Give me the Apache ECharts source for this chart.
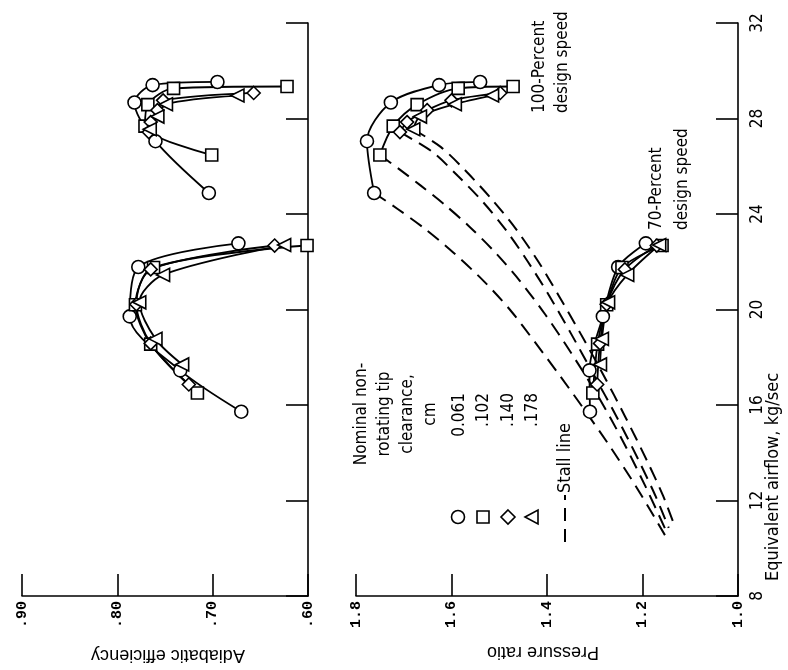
<!DOCTYPE html>
<html>
<head>
<meta charset="utf-8">
<title>Compressor performance</title>
<script src="https://cdn.jsdelivr.net/npm/echarts@6/dist/echarts.min.js"></script>
<style>
  html, body { margin: 0; padding: 0; background: #fff; }
  #chart { width: 788px; height: 670px; }
</style>
</head>
<body>
<div id="chart"></div>
<script>
// clearance legend
const clearances = ['0.061', '.102', '.140', '.178'];
const markers = ['circle', 'rect', 'diamond', 'triangle'];
const flowTicks = [8, 12, 16, 20, 24, 28, 32];

// 100-percent design speed: airflow, pressure ratio, efficiency
const f100a = [29.53, 29.40, 28.67, 27.05, 24.88];
const pr100a = [1.540, 1.626, 1.727, 1.777, 1.762];
const ef100a = [0.695, 0.763, 0.782, 0.760, 0.704];

const f100b = [29.34, 29.26, 28.58, 27.68, 26.47];
const pr100b = [1.471, 1.586, 1.672, 1.722, 1.750];
const ef100b = [0.622, 0.741, 0.768, 0.771, 0.701];

const f100c = [29.07, 28.76, 28.35, 27.85, 27.43];
const pr100c = [1.498, 1.600, 1.651, 1.693, 1.708];
const ef100c = [0.657, 0.752, 0.758, 0.765, 0.767];

const f100d = [28.96, 28.60, 28.08, 27.55];
const pr100d = [1.515, 1.593, 1.666, 1.680];
const ef100d = [0.674, 0.749, 0.758, 0.766];

// 70-percent design speed
const f70a = [22.77, 21.78, 19.71, 17.45, 15.72];
const pr70a = [1.193, 1.251, 1.283, 1.311, 1.310];
const ef70a = [0.673, 0.778, 0.787, 0.734, 0.670];

const f70b = [22.68, 21.76, 20.20, 18.55, 16.50];
const pr70b = [1.159, 1.243, 1.275, 1.294, 1.304];
const ef70b = [0.601, 0.762, 0.781, 0.765, 0.716];

const f70c = [22.68, 21.68, 20.22, 18.58, 16.86];
const pr70c = [1.170, 1.237, 1.275, 1.289, 1.295];
const ef70c = [0.635, 0.765, 0.780, 0.765, 0.725];

const f70d = [22.70, 21.45, 20.30, 18.77, 17.70];
const pr70d = [1.165, 1.232, 1.272, 1.285, 1.289];
const ef70d = [0.625, 0.752, 0.777, 0.760, 0.732];

// stall lines, one per clearance
const stallF1 = [24.88, 24.2, 23.4, 22.4, 21.2, 20.0, 18.6, 17.2, 15.7, 14.2, 12.6, 10.55];
const stallP1 = [1.762, 1.712, 1.657, 1.597, 1.533, 1.478, 1.424, 1.372, 1.318, 1.266, 1.214, 1.153];
const stallF2 = [26.47, 25.9, 25.2, 24.4, 23.5, 22.4, 21.2, 19.8, 18.2, 16.4, 14.6, 12.6, 10.7];
const stallP2 = [1.750, 1.711, 1.665, 1.615, 1.564, 1.509, 1.457, 1.404, 1.350, 1.294, 1.244, 1.194, 1.150];
const stallF3 = [27.43, 26.6, 25.6, 24.5, 23.3, 22.0, 20.6, 19.0, 17.3, 15.5, 13.6, 12.2, 10.85];
const stallP3 = [1.708, 1.640, 1.587, 1.534, 1.485, 1.440, 1.396, 1.350, 1.303, 1.254, 1.206, 1.173, 1.145];
const stallF4 = [27.55, 26.8, 25.8, 24.6, 23.4, 22.0, 20.6, 19.0, 17.3, 15.5, 13.6, 12.2, 10.95];
const stallP4 = [1.680, 1.622, 1.570, 1.515, 1.466, 1.418, 1.376, 1.330, 1.283, 1.236, 1.189, 1.157, 1.133];

const BLACK = '#000';
const SANS = '"Liberation Sans", Arial, sans-serif';
const NARROW = '"Liberation Sans Narrow", "DejaVu Sans Condensed", sans-serif';
const MONO = '"Liberation Mono", "DejaVu Sans Mono", monospace';

const chart = echarts.init(document.getElementById('chart'));

// one performance curve: value on the horizontal axis, airflow vertical
function curve(flows, vals, k, axis) {
  return {
    type: 'line',
    xAxisIndex: axis,
    yAxisIndex: axis,
    data: flows.map((f, i) => [vals[i], f]),
    symbol: markers[k],
    symbolSize: markers[k] === 'rect' ? 12 : 13,
    symbolRotate: markers[k] === 'triangle' ? 90 : 0,
    smooth: 0.3,
    clip: false,
    itemStyle: { color: '#fff', borderColor: BLACK, borderWidth: 1.6 },
    lineStyle: { color: BLACK, width: 1.8 },
    z: 3
  };
}

function stall(flows, vals) {
  return {
    type: 'line',
    xAxisIndex: 1,
    yAxisIndex: 1,
    data: flows.map((f, i) => [vals[i], f]),
    symbol: 'none',
    smooth: 0.3,
    lineStyle: { color: BLACK, width: 2, type: [14, 8] },
    z: 2
  };
}

const axisLine = { show: true, onZero: false, lineStyle: { color: BLACK, width: 1.6 } };
const axisTick = { show: true, inside: true, length: 22, lineStyle: { color: BLACK, width: 1.6 } };

const series = [
  curve(f100a, ef100a, 0, 0), curve(f100b, ef100b, 1, 0), curve(f100c, ef100c, 2, 0), curve(f100d, ef100d, 3, 0),
  curve(f70a, ef70a, 0, 0), curve(f70b, ef70b, 1, 0), curve(f70c, ef70c, 2, 0), curve(f70d, ef70d, 3, 0),
  curve(f100a, pr100a, 0, 1), curve(f100b, pr100b, 1, 1), curve(f100c, pr100c, 2, 1), curve(f100d, pr100d, 3, 1),
  curve(f70a, pr70a, 0, 1), curve(f70b, pr70b, 1, 1), curve(f70c, pr70c, 2, 1), curve(f70d, pr70d, 3, 1),
  stall(stallF1, stallP1), stall(stallF2, stallP2), stall(stallF3, stallP3), stall(stallF4, stallP4)
];

// legend marks and annotations
const sym = { fill: '#fff', stroke: BLACK, lineWidth: 1.6 };
const legendX = [458, 483, 508, 532];
const legendY = 517;
const graphic = [
  { type: 'circle', shape: { cx: legendX[0], cy: legendY, r: 6.5 }, style: sym },
  { type: 'rect', shape: { x: legendX[1] - 6, y: legendY - 6, width: 12, height: 12 }, style: sym },
  { type: 'polygon', shape: { points: [[legendX[2], legendY - 7], [legendX[2] + 7, legendY], [legendX[2], legendY + 7], [legendX[2] - 7, legendY]] }, style: sym },
  { type: 'polygon', shape: { points: [[legendX[3] - 7, legendY], [legendX[3] + 6, legendY - 7], [legendX[3] + 6, legendY + 7]] }, style: sym },
  { type: 'line', shape: { x1: 565, y1: 542, x2: 565, y2: 495 }, style: { stroke: BLACK, lineWidth: 2, lineDash: [13, 8] } },
  { type: 'text', x: 396, y: 414, rotation: Math.PI / 2,
    style: { text: 'Nominal non-\nrotating tip\nclearance,\ncm', font: '17px ' + NARROW, fill: BLACK, align: 'center', verticalAlign: 'middle', lineHeight: 23 } },
  { type: 'text', x: 496, y: 393, rotation: Math.PI / 2,
    style: { text: clearances.join('\n'), font: '17px ' + NARROW, fill: BLACK, align: 'right', verticalAlign: 'middle', lineHeight: 24.5 } },
  { type: 'text', x: 565, y: 493, rotation: Math.PI / 2,
    style: { text: 'Stall line', font: '18px ' + NARROW, fill: BLACK, align: 'left', verticalAlign: 'middle' } },
  { type: 'text', x: 551, y: 113, rotation: Math.PI / 2,
    style: { text: '100-Percent\ndesign speed', font: '17px ' + NARROW, fill: BLACK, align: 'left', verticalAlign: 'middle', lineHeight: 23 } },
  { type: 'text', x: 670, y: 230, rotation: Math.PI / 2,
    style: { text: '70-Percent\ndesign speed', font: '17px ' + NARROW, fill: BLACK, align: 'left', verticalAlign: 'middle', lineHeight: 26 } },
  { type: 'text', x: 543, y: 652, rotation: Math.PI,
    style: { text: 'Pressure ratio', font: '18px ' + SANS, fill: BLACK, align: 'center', verticalAlign: 'middle' } },
  { type: 'text', x: 168, y: 655, rotation: Math.PI,
    style: { text: 'Adiabatic efficiency', font: '18px ' + SANS, fill: BLACK, align: 'center', verticalAlign: 'middle' } },
  { type: 'text', x: 773, y: 477, rotation: Math.PI / 2,
    style: { text: 'Equivalent airflow, kg/sec', font: '18px ' + NARROW, fill: BLACK, align: 'center', verticalAlign: 'middle' } }
];

chart.setOption({
  animation: false,
  backgroundColor: '#fff',
  grid: [
    { left: 22, top: 23, width: 286, height: 573 },
    { left: 356, top: 23, width: 382, height: 573 }
  ],
  xAxis: [
    {
      gridIndex: 0, type: 'value', min: 0.6, max: 0.9, interval: 0.1, inverse: true, position: 'bottom',
      axisLine, axisTick, splitLine: { show: false },
      axisLabel: { rotate: 90, margin: 5, color: BLACK, fontFamily: MONO, fontWeight: 'bold', fontSize: 15,
        formatter: v => '.' + Math.round(v * 100) }
    },
    {
      gridIndex: 1, type: 'value', min: 1.0, max: 1.8, interval: 0.2, inverse: true, position: 'bottom',
      axisLine, axisTick, splitLine: { show: false },
      axisLabel: { rotate: 90, margin: 5, color: BLACK, fontFamily: MONO, fontWeight: 'bold', fontSize: 15,
        formatter: v => v.toFixed(1) }
    }
  ],
  yAxis: [
    {
      gridIndex: 0, type: 'value', min: flowTicks[0], max: flowTicks[flowTicks.length - 1], interval: 4, position: 'right',
      axisLine, axisTick, splitLine: { show: false }, axisLabel: { show: false }
    },
    {
      gridIndex: 1, type: 'value', min: flowTicks[0], max: flowTicks[flowTicks.length - 1], interval: 4, position: 'right',
      axisLine, axisTick, splitLine: { show: false },
      axisLabel: { rotate: 90, margin: 11, color: BLACK, fontFamily: NARROW, fontSize: 17 }
    }
  ],
  graphic,
  series
});
</script>
</body>
</html>
